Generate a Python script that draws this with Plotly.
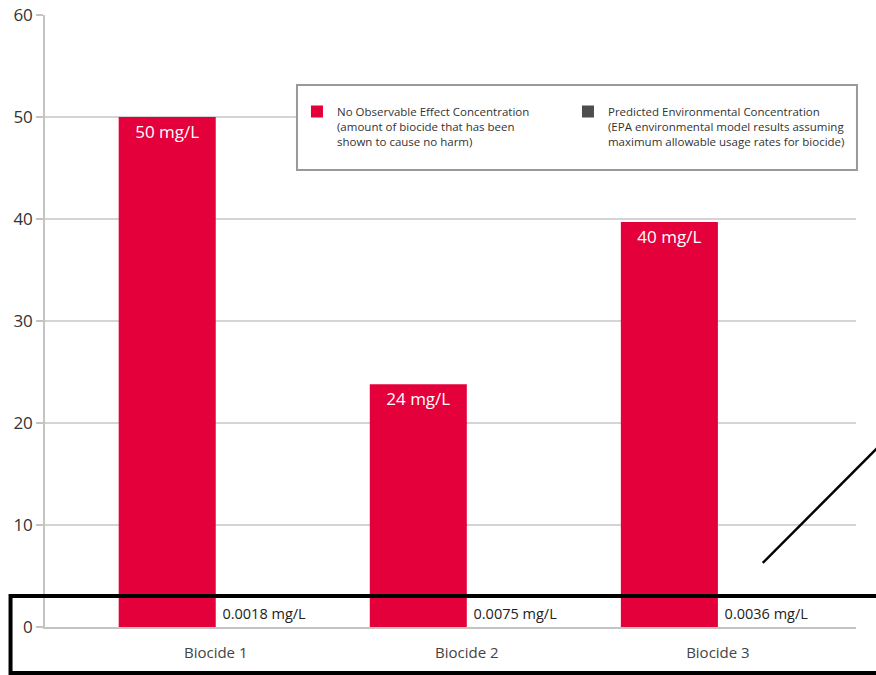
import plotly.graph_objects as go

categories = ["Biocide 1", "Biocide 2", "Biocide 3"]
noec_values = [50, 23.8, 39.7]
noec_labels = ["50 mg/L", "24 mg/L", "40 mg/L"]
pec_values = [0.0018, 0.0075, 0.0036]
pec_labels = ["0.0018 mg/L", "0.0075 mg/L", "0.0036 mg/L"]
y_ticks = [0, 10, 20, 30, 40, 50, 60]

RED = "#E4003A"
GRAY = "#4D4D4D"
FONT = "Open Sans"

fig = go.Figure()
fig.add_trace(go.Bar(
    x=categories, y=noec_values,
    name="No Observable Effect Concentration<br>(amount of biocide that has been<br>shown to cause no harm)",
    legendwidth=226,
    marker=dict(color=RED, line=dict(width=0)),
    text=noec_labels, textposition="inside", insidetextanchor="end",
    textfont=dict(family=FONT, size=17, color="white"), constraintext="none",
))
fig.add_trace(go.Bar(
    x=categories, y=pec_values,
    name="Predicted Environmental Concentration<br>(EPA environmental model results assuming<br>maximum allowable usage rates for biocide)",
    legendwidth=250,
    marker=dict(color=GRAY, line=dict(width=0)),
    selectedpoints=[],
    unselected=dict(marker=dict(opacity=0), textfont=dict(color="#222")),
    text=pec_labels, textposition="outside",
    textfont=dict(family=FONT, size=14.5, color="#222"), constraintext="none", cliponaxis=False,
))

fig.update_layout(
    width=876, height=675,
    margin=dict(l=45, r=20, t=15, b=48, autoexpand=False),
    paper_bgcolor="white", plot_bgcolor="white",
    barmode="group", bargap=0.227, bargroupgap=0,
    font=dict(family=FONT, color="#333"),
    showlegend=True,
    legend=dict(
        orientation="h", x=0.3107, xanchor="left", y=0.865, yanchor="top",
        bgcolor="rgba(0,0,0,0)", borderwidth=0, valign="top",
        font=dict(family=FONT, size=11.5, color="#333"),
        traceorder="normal",
    ),
    xaxis=dict(
        type="category", range=[-0.68, 2.55], showgrid=False, automargin=False,
        showline=True, linecolor="#c4c4c4", linewidth=2, layer="above traces",
        ticks="", tickfont=dict(family=FONT, size=15, color="#444"),
        ticklabelstandoff=11,
    ),
    yaxis=dict(
        range=[0, 60], tickvals=y_ticks, showgrid=True, gridcolor="#d4d4d4", gridwidth=1.5,
        showline=True, linecolor="#c4c4c4", linewidth=1.5, automargin=False,
        ticks="outside", ticklen=7, tickcolor="#c4c4c4", tickwidth=1.5,
        tickfont=dict(family=FONT, size=17, color="#333"), zeroline=False,
    ),
    shapes=[
        dict(type="rect", xref="paper", yref="paper", x0=0.3107, x1=1.0012, y0=0.7467, y1=0.8856,
             fillcolor="white", line=dict(color="#999", width=2), layer="above"),
        dict(type="rect", xref="paper", yref="paper", x0=-0.0425, x1=1.04, y0=-0.0752, y1=0.0507,
             fillcolor="rgba(0,0,0,0)", line=dict(color="black", width=4), layer="above"),
        dict(type="line", xref="paper", yref="paper", x0=0.885, y0=0.1046, x1=1.0296, y1=0.297,
             line=dict(color="black", width=2.5), layer="above"),
    ],
)

fig.write_html("out.html", config={"displayModeBar": False},
               post_script="document.body.style.margin='0';")
